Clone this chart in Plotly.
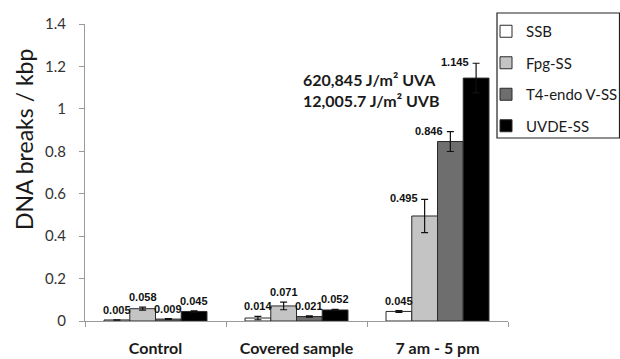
import plotly.graph_objects as go

categories = ["Control", "Covered sample", "7 am - 5 pm"]
series_names = ["SSB", "Fpg-SS", "T4-endo V-SS", "UVDE-SS"]
ssb = [0.005, 0.014, 0.045]
fpg = [0.058, 0.071, 0.495]
t4 = [0.009, 0.021, 0.846]
uvde = [0.045, 0.052, 1.145]
ssb_err = [0.001, 0.008, 0.004]
fpg_err = [0.007, 0.018, 0.078]
t4_err = [0.002, 0.003, 0.047]
uvde_err = [0.003, 0.003, 0.070]
y_ticks = [0, 0.2, 0.4, 0.6, 0.8, 1, 1.2, 1.4]
y_ticktext = ["0", "0.2", "0.4", "0.6", "0.8", "1", "1.2", "1.4"]

values = [ssb, fpg, t4, uvde]
errors = [ssb_err, fpg_err, t4_err, uvde_err]
colors = ["#ffffff", "#c4c4c4", "#6e6e6e", "#000000"]

W, H = 620, 359
ML, MR, MT, MB = 85, 112, 24, 38
BARGAP = 0.27
plot_w = W - ML - MR
plot_h = H - MT - MB
cat_px = plot_w / len(categories)
bar_px = cat_px * (1 - BARGAP) / len(series_names)

fig = go.Figure()
for i, (name, vals, errs, col) in enumerate(zip(series_names, values, errors, colors)):
    fig.add_trace(go.Bar(
        name=name, x=categories, y=vals, legendgroup=name,
        marker=dict(color=col, line=dict(color="#2a2a2a", width=1)),
        error_y=dict(type="data", array=errs, visible=True, color="#111111",
                     thickness=1.2, width=3.5),
    ))

label_font = dict(family="Liberation Sans, Arial", size=11, color="#111111", weight="bold")
for i, (vals, errs) in enumerate(zip(values, errors)):
    offset = (i - (len(series_names) - 1) / 2) * bar_px
    for c, v, e in zip(categories, vals, errs):
        if e > 0.03:
            fig.add_annotation(x=c, y=v + e, xref="x", yref="y", text=f"{v:.3f}",
                               showarrow=False, font=label_font,
                               xanchor="right", yanchor="middle",
                               xshift=offset - 5, yshift=1)
        else:
            fig.add_annotation(x=c, y=v + e, xref="x", yref="y", text=f"{v:.3f}",
                               showarrow=False, font=label_font,
                               xanchor="center", yanchor="bottom",
                               xshift=offset, yshift=2)

fig.add_annotation(text="620,845 J/m² UVA<br>12,005.7 J/m² UVB", xref="paper", yref="paper",
                   x=(301 - ML) / plot_w, y=1 - (68 - MT) / plot_h,
                   xanchor="left", yanchor="top", align="left", showarrow=False,
                   font=dict(family="Lato", size=16, color="#1a1a1a", weight="bold"))

fig.add_annotation(text="DNA breaks / kbp", xref="paper", yref="paper",
                   x=-(ML - 24) / plot_w, y=1 - (140 - MT) / plot_h,
                   xanchor="center", yanchor="middle", textangle=-90, showarrow=False,
                   font=dict(family="Lato", size=23, color="#1a1a1a"))

fig.add_shape(type="rect", xref="paper", yref="paper", layer="above",
              x0=(497 - ML) / plot_w, x1=(619.5 - ML) / plot_w,
              y0=1 - (138 - MT) / plot_h, y1=1 - (13 - MT) / plot_h,
              line=dict(color="#222222", width=1.2), fillcolor="rgba(0,0,0,0)")

fig.update_layout(
    width=W, height=H, autosize=False,
    margin=dict(l=ML, r=MR, t=MT, b=MB, autoexpand=False),
    paper_bgcolor="white", plot_bgcolor="white",
    barmode="group", bargap=BARGAP, bargroupgap=0,
    showlegend=True,
    legend=dict(xref="container", yref="container", x=486 / W, y=1 - 15 / H,
                xanchor="left", yanchor="top", bgcolor="rgba(0,0,0,0)", borderwidth=0,
                traceorder="grouped", tracegroupgap=9, itemwidth=30,
                font=dict(family="Lato", size=15, color="#1a1a1a")),
    xaxis=dict(showline=True, linecolor="#9a9a9a", linewidth=1, ticks="outside",
               tickson="boundaries", ticklen=5, tickcolor="#9a9a9a",
               ticklabelstandoff=13,
               tickfont=dict(family="Lato", size=16, color="#1a1a1a", weight="bold"),
               showgrid=False, zeroline=False),
    yaxis=dict(range=[0, 1.4], tickvals=y_ticks, ticktext=y_ticktext,
               showline=True, linecolor="#9a9a9a", linewidth=1, ticks="outside",
               ticklen=5, tickcolor="#9a9a9a", ticklabelstandoff=10,
               tickfont=dict(family="Lato", size=15, color="#333333"),
               showgrid=False, zeroline=False),
)

fig.write_html("out.html", config={"displayModeBar": False},
               post_script="document.body.style.margin='0';")
